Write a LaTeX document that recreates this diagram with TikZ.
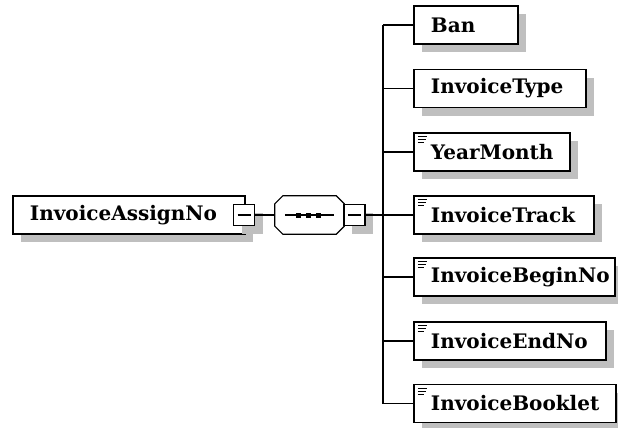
\documentclass[tikz,border=0pt]{standalone}
\usepackage{fontspec}
\newfontfamily\schemafont{DejaVu Serif}
\usetikzlibrary{shadows}

\begin{document}
\begin{tikzpicture}[
  x=1pt, y=-1pt,
  shade/.style={drop shadow={shadow xshift=8pt, shadow yshift=-8pt, fill=black!25, opacity=1}},
  elem/.style={draw, line width=1.8pt, fill=white, shade, anchor=west,
    minimum height=38pt, inner xsep=17pt, inner ysep=0pt, text width=#1-34pt, align=left,
    font=\schemafont\bfseries\fontsize{20}{22}\selectfont},
  doc/.style={path picture={
    \draw[line width=1pt] ([shift={(4pt,-3.5pt)}]path picture bounding box.north west) -- ++(9pt,0pt);
    \draw[line width=1pt] ([shift={(4pt,-6.5pt)}]path picture bounding box.north west) -- ++(8pt,0pt);
    \draw[line width=1pt] ([shift={(4pt,-9.5pt)}]path picture bounding box.north west) -- ++(6pt,0pt);}},
  btn/.style={draw, line width=1.8pt, fill=white, shade, minimum size=21pt, inner sep=0pt,
    path picture={\draw[line width=1.2pt] ([xshift=4pt]path picture bounding box.west)
      -- ([xshift=-4pt]path picture bounding box.east);}},
  seqbox/.style={minimum width=69pt, minimum height=38pt, inner sep=0pt},
  octagon/.style={line width=1.2pt, fill=white},
  conn/.style={line width=1.4pt}
]
  \useasboundingbox (0,0) rectangle (618,428);

  % root element
  \node[elem=232pt] (root) at (12,215) {InvoiceAssignNo};
  \node[btn] (rootbtn) at (244,215) {};

  % sequence compositor
  \node[seqbox] (seq) at (309.5,215) {};
  \fill[black!25, shift={(8,8)}] ([xshift=8pt]seq.north west) -- ([xshift=-8pt]seq.north east)
    -- ([yshift=-8pt]seq.north east) -- ([yshift=8pt]seq.south east) -- ([xshift=-8pt]seq.south east)
    -- ([xshift=8pt]seq.south west) -- ([yshift=8pt]seq.south west) -- ([yshift=-8pt]seq.north west) -- cycle;
  \draw[octagon] ([xshift=8pt]seq.north west) -- ([xshift=-8pt]seq.north east)
    -- ([yshift=-8pt]seq.north east) -- ([yshift=8pt]seq.south east) -- ([xshift=-8pt]seq.south east)
    -- ([xshift=8pt]seq.south west) -- ([yshift=8pt]seq.south west) -- ([yshift=-8pt]seq.north west) -- cycle;
  \draw[conn] ([xshift=10pt]seq.west) -- ([xshift=-10pt]seq.east);
  \foreach \dx in {-11,-1,9}
    \fill ([xshift=\dx pt]seq.center) +(-2.5pt,-2.5pt) rectangle +(2.5pt,2.5pt);
  \node[btn] (seqbtn) at (354.5,215) {};
  \coordinate (trunk) at (383,215);

  % children
  \node[elem=104pt] (ban) at (413,25) {Ban};
  \node[elem=172pt] (type) at (413,88.5) {InvoiceType};
  \node[elem=156pt, doc] (month) at (413,152) {YearMonth};
  \node[elem=180pt, doc] (track) at (413,215) {InvoiceTrack};
  \node[elem=201pt, doc] (begin) at (413,277) {InvoiceBeginNo};
  \node[elem=192pt, doc] (end) at (413,341) {InvoiceEndNo};
  \node[elem=202pt, doc] (booklet) at (413,403.5) {InvoiceBooklet};

  % connectors
  \draw[conn] (rootbtn.east) -- (seq.west);
  \draw[conn] (seqbtn.east) -- (trunk);
  \draw[conn] (trunk |- ban.west) -- (trunk |- booklet.west);
  \foreach \n in {ban,type,month,track,begin,end,booklet}
    \draw[conn] (trunk |- \n.west) -- (\n.west);
\end{tikzpicture}
\end{document}
